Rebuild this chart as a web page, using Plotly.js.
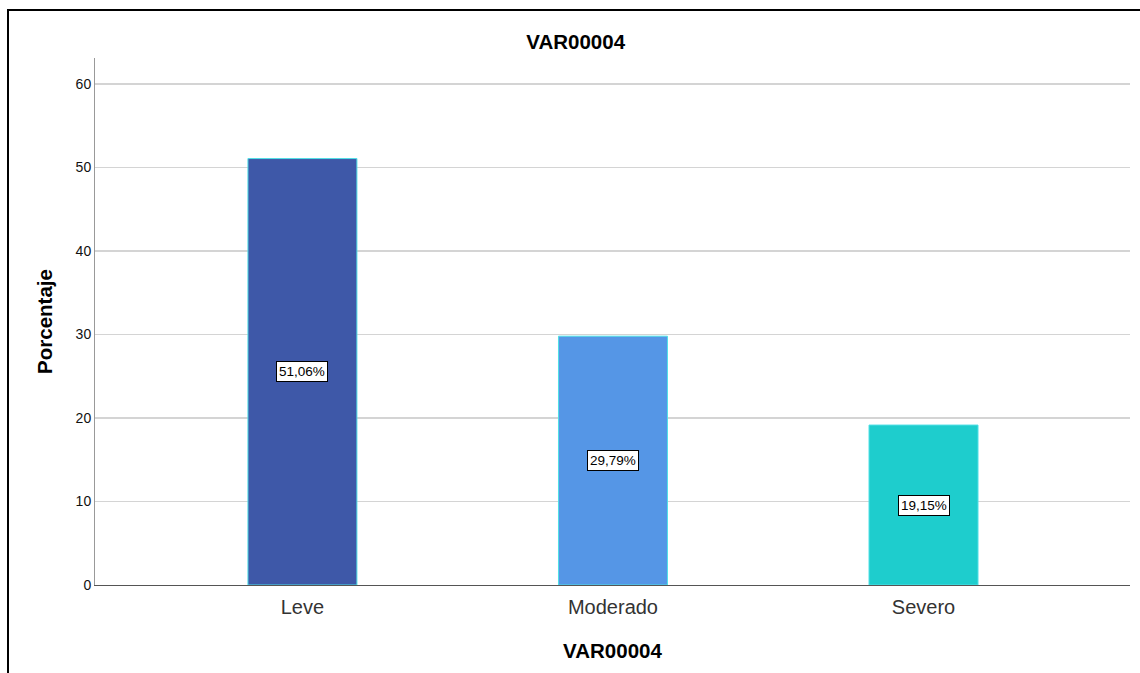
<!DOCTYPE html>
<html>
<head>
<meta charset="utf-8">
<script src="https://cdn.plot.ly/plotly-3.0.1.min.js"></script>
<style>html,body{margin:0;padding:0;background:#fff;}#chart{width:1140px;height:673px;}</style>
</head>
<body>
<div id="chart"></div>
<script>
const categories = ["Leve", "Moderado", "Severo"];
const percentages = [51.06, 29.79, 19.15];
const labels = ["51,06%", "29,79%", "19,15%"];
const barColors = ["#3e58a8", "#5596e6", "#1ecdcd"];
const yTicks = [0, 10, 20, 30, 40, 50, 60];

const font = "Liberation Sans, Arial, sans-serif";

const trace = {
  type: "bar",
  x: categories,
  y: percentages,
  width: 0.351,
  marker: { color: barColors, line: { color: "#4fe0e6", width: 1 } },
  hoverinfo: "skip"
};

const annotations = categories.map((c, i) => ({
  x: c, y: percentages[i] / 2, xref: "x", yref: "y",
  text: labels[i], showarrow: false,
  font: { family: font, size: 13.5, color: "#000" },
  bgcolor: "#fff", bordercolor: "#000", borderwidth: 1, borderpad: 2
}));

const layout = {
  width: 1140, height: 673,
  margin: { l: 95, r: 10, t: 58, b: 88 },
  paper_bgcolor: "#fff", plot_bgcolor: "#fff",
  showlegend: false,
  title: { text: "<b>VAR00004</b>", x: 0.505, xanchor: "center", y: 0.938, yanchor: "middle",
           font: { family: font, size: 20.5, color: "#000" } },
  xaxis: {
    type: "category", range: [-0.668, 2.665],
    showline: true, linecolor: "#555", linewidth: 1,
    showgrid: false, ticks: "", ticklabelstandoff: 4,
    tickfont: { family: font, size: 20, color: "#333" },
    title: { text: "<b>VAR00004</b>", font: { family: font, size: 20.5, color: "#000" }, standoff: 26 }
  },
  yaxis: {
    range: [0, 63.1], tickvals: yTicks, ticktext: yTicks.map(String),
    showline: true, linecolor: "#999", linewidth: 1,
    showgrid: true, gridcolor: "#d4d4d4", gridwidth: 1.5,
    zeroline: false, ticks: "", ticklen: 0,
    tickfont: { family: font, size: 14, color: "#111" },
    title: { text: "<b>Porcentaje</b>", font: { family: font, size: 20.5, color: "#000" }, standoff: 17 }
  },
  annotations: annotations,
  shapes: [{
    type: "rect", xref: "paper", yref: "paper",
    x0: (8 - 95) / 1035, x1: 1.2, y0: -0.3, y1: (585 - 10) / 527,
    line: { color: "#000", width: 2 }, fillcolor: "rgba(0,0,0,0)", layer: "above"
  }]
};

Plotly.newPlot("chart", [trace], layout, { displayModeBar: false, staticPlot: true });
</script>
</body>
</html>
